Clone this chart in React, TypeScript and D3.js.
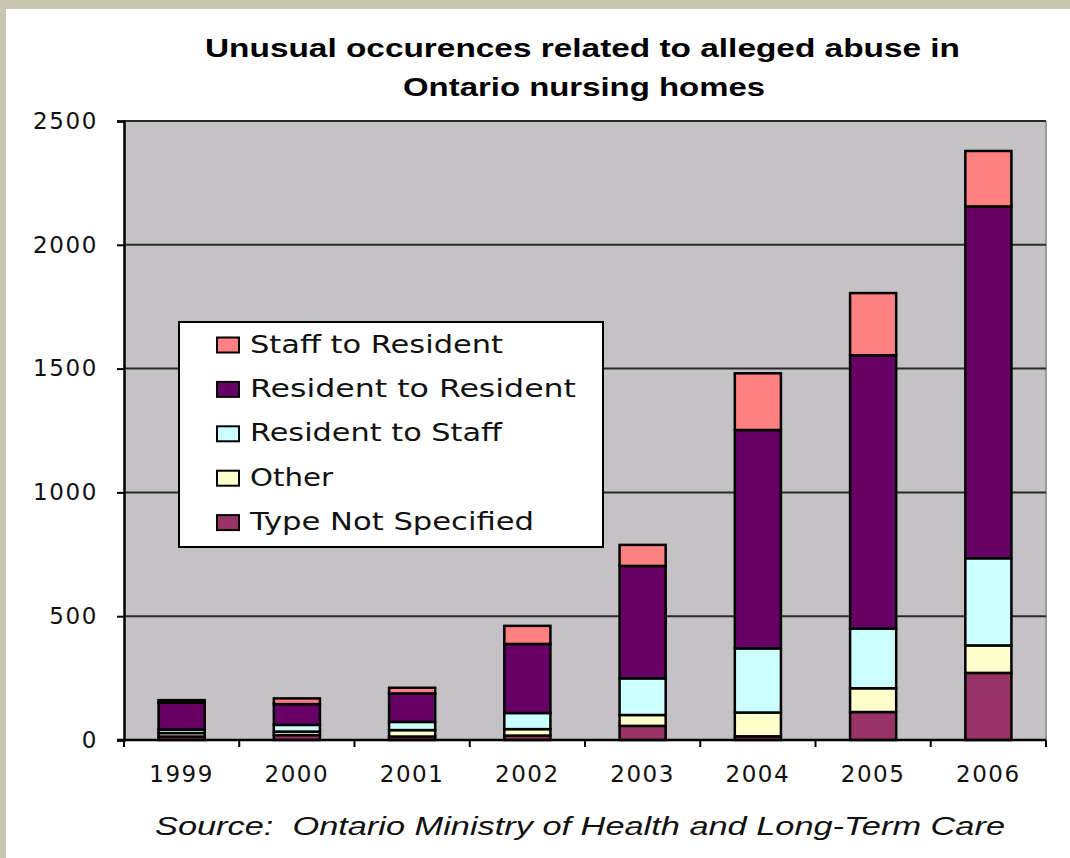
import * as d3 from 'd3';
import { useEffect, useRef } from 'react';

const years = ['1999', '2000', '2001', '2002', '2003', '2004', '2005', '2006'];
const typeNotSpecified = [14, 20, 14, 18, 57, 15, 113, 271];
const other = [14, 14, 26, 26, 44, 96, 96, 111];
const residentToStaff = [14, 27, 33, 65, 148, 259, 241, 352];
const residentToResident = [109, 84, 115, 279, 454, 882, 1104, 1421];
const staffToResident = [10, 23, 23, 73, 85, 229, 251, 224];

// stacking order, bottom to top
const seriesNames = ['Type Not Specified', 'Other', 'Resident to Staff', 'Resident to Resident', 'Staff to Resident'];
const seriesColors = ['#993366', '#ffffcc', '#ccffff', '#660066', '#ff8080'];
const yTicks = [0, 500, 1000, 1500, 2000, 2500];

const W = 1070;
const H = 858;

export default function App() {
  const ref = useRef<SVGSVGElement>(null);

  useEffect(() => {
    if (!ref.current) return;
    const svg = d3.select(ref.current);
    svg.selectAll('*').remove();

    const left = 124, right = 1046, top = 121, bottom = 740;

    const rows = years.map((yr, i) => ({
      year: yr,
      'Type Not Specified': typeNotSpecified[i],
      'Other': other[i],
      'Resident to Staff': residentToStaff[i],
      'Resident to Resident': residentToResident[i],
      'Staff to Resident': staffToResident[i],
    }));

    const x = d3.scaleBand<string>().domain(years).range([left, right]).paddingInner(0.6).paddingOuter(0.3);
    const y = d3.scaleLinear().domain([0, 2500]).range([bottom, top]);
    const color = d3.scaleOrdinal<string, string>().domain(seriesNames).range(seriesColors);

    // textured backdrop
    const defs = svg.append('defs');
    const f = defs.append('filter').attr('id', 'grain').attr('x', 0).attr('y', 0).attr('width', '100%').attr('height', '100%');
    f.append('feTurbulence').attr('type', 'fractalNoise').attr('baseFrequency', 0.9).attr('numOctaves', 2).attr('seed', 3);
    f.append('feColorMatrix').attr('type', 'matrix')
      .attr('values', '0 0 0 0 0.55  0 0 0 0 0.53  0 0 0 0 0.45  0 0 0 0.5 0');

    svg.append('rect').attr('width', W).attr('height', H).attr('fill', '#c9c6af');
    svg.append('rect').attr('width', W).attr('height', H).attr('filter', 'url(#grain)').attr('opacity', 0.35);
    svg.append('rect').attr('x', 6).attr('y', 9).attr('width', W - 6).attr('height', H - 9).attr('fill', '#ffffff');

    // title
    const title = svg.append('g')
      .attr('font-family', '"Liberation Sans", Arial, sans-serif')
      .attr('font-weight', 'bold')
      .attr('font-size', 25)
      .attr('fill', '#000');
    title.append('text').attr('x', 205).attr('y', 57).attr('textLength', 755).attr('lengthAdjust', 'spacingAndGlyphs')
      .text('Unusual occurences related to alleged abuse in');
    title.append('text').attr('x', 403).attr('y', 96).attr('textLength', 362).attr('lengthAdjust', 'spacingAndGlyphs')
      .text('Ontario nursing homes');

    // plot area
    svg.append('rect').attr('x', left).attr('y', top).attr('width', right - left).attr('height', bottom - top).attr('fill', '#c4c2c5');
    svg.append('line').attr('x1', right).attr('x2', right).attr('y1', top).attr('y2', bottom).attr('stroke', '#9a9a9a').attr('stroke-width', 2);

    svg.append('g').selectAll('line').data(yTicks.filter(t => t > 0)).join('line')
      .attr('x1', left).attr('x2', right)
      .attr('y1', d => y(d)).attr('y2', d => y(d))
      .attr('stroke', '#2a2a2a').attr('stroke-width', 2);

    // bars
    const stacked = d3.stack<any>().keys(seriesNames)(rows);
    svg.append('g').selectAll('g').data(stacked).join('g')
      .attr('fill', d => color(d.key))
      .selectAll('rect').data(d => d).join('rect')
      .attr('x', d => x(d.data.year)!)
      .attr('width', x.bandwidth())
      .attr('y', d => y(d[1]))
      .attr('height', d => y(d[0]) - y(d[1]))
      .attr('stroke', '#000')
      .attr('stroke-width', 2.5);

    // y axis
    const yAxis = svg.append('g').attr('transform', `translate(${left},0)`)
      .call(d3.axisLeft(y).tickValues(yTicks).tickSize(7).tickPadding(19).tickFormat(d3.format('d')));
    yAxis.select('.domain').attr('stroke', '#000').attr('stroke-width', 2.5);
    yAxis.selectAll('.tick line').attr('stroke', '#000').attr('stroke-width', 2);
    yAxis.selectAll('text')
      .attr('font-family', '"DejaVu Sans", Verdana, sans-serif')
      .attr('font-size', 23)
      .attr('letter-spacing', 1.6)
      .attr('fill', '#111');

    // x axis
    const boundaries = d3.range(years.length + 1).map(i => left + i * x.step());
    svg.append('g').selectAll('line').data(boundaries).join('line')
      .attr('x1', d => d).attr('x2', d => d)
      .attr('y1', bottom).attr('y2', bottom + 7)
      .attr('stroke', '#000').attr('stroke-width', 2);
    svg.append('line').attr('x1', left - 7).attr('x2', right).attr('y1', bottom).attr('y2', bottom)
      .attr('stroke', '#000').attr('stroke-width', 2.5);
    svg.append('g').selectAll('text').data(years).join('text')
      .attr('x', d => x(d)! + x.bandwidth() / 2)
      .attr('y', 782)
      .attr('text-anchor', 'middle')
      .attr('font-family', '"DejaVu Sans", Verdana, sans-serif')
      .attr('font-size', 23)
      .attr('letter-spacing', 1.6)
      .attr('fill', '#111')
      .text(d => d);

    // legend
    const legendWidths = [253, 326, 252, 83, 284];
    const lg = svg.append('g');
    lg.append('rect').attr('x', 179).attr('y', 322).attr('width', 424).attr('height', 225)
      .attr('fill', '#fff').attr('stroke', '#000').attr('stroke-width', 2);
    const order = [...seriesNames].reverse();
    const item = lg.selectAll('g.item').data(order).join('g').attr('class', 'item')
      .attr('transform', (_, i) => `translate(0,${352.5 + i * 44.4})`);
    item.append('rect').attr('x', 217).attr('y', -15).attr('width', 22).attr('height', 15)
      .attr('fill', d => color(d)).attr('stroke', '#000').attr('stroke-width', 2);
    item.append('text').attr('x', 250).attr('y', 0)
      .attr('font-family', '"DejaVu Sans", Verdana, sans-serif')
      .attr('font-size', 24)
      .attr('fill', '#111')
      .attr('textLength', (_, i) => legendWidths[i])
      .attr('lengthAdjust', 'spacingAndGlyphs')
      .text(d => d);

    // source note
    svg.append('text').attr('x', 155).attr('y', 835)
      .attr('font-family', '"Liberation Sans", Arial, sans-serif')
      .attr('font-style', 'italic')
      .attr('font-size', 25)
      .attr('fill', '#111')
      .attr('textLength', 850)
      .attr('lengthAdjust', 'spacingAndGlyphs')
      .attr('xml:space', 'preserve')
      .text('Source:  Ontario Ministry of Health and Long-Term Care');
  }, []);

  return (
    <svg ref={ref} width={W} height={H} style={{ position: 'absolute', left: 0, top: 0, display: 'block' }} />
  );
}
